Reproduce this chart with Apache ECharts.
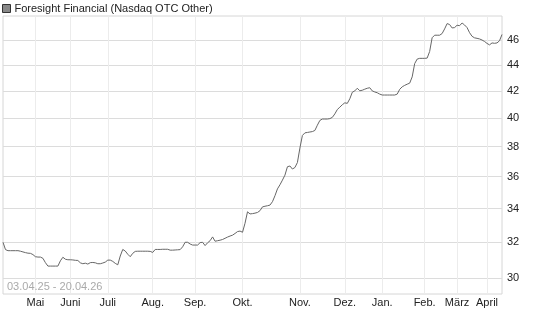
<!DOCTYPE html>
<html>
<head>
<meta charset="utf-8">
<script src="https://cdn.jsdelivr.net/npm/echarts@6/dist/echarts.min.js"></script>
<style>
html,body{margin:0;padding:0;background:#fff;}
#chart{width:545px;height:327px;}
</style>
</head>
<body>
<div id="chart"></div>
<script>
const seriesName = 'Foresight Financial (Nasdaq OTC Other)';
const dateRange = '03.04.25 - 20.04.26';
const prices = [
32.00,31.58,31.52,31.52,31.52,31.52,31.52,31.49,31.45,31.41,
31.38,31.37,31.30,31.18,31.16,31.16,31.09,30.85,30.66,30.66,
30.66,30.66,30.66,30.95,31.15,31.04,31.01,31.01,31.00,30.98,
30.97,30.84,30.79,30.82,30.77,30.85,30.86,30.84,30.79,30.79,
30.83,30.88,30.99,30.99,30.92,30.81,30.73,31.22,31.59,31.50,
31.32,31.18,31.37,31.48,31.49,31.49,31.49,31.49,31.49,31.48,
31.42,31.59,31.59,31.59,31.60,31.60,31.60,31.55,31.55,31.56,
31.57,31.58,31.74,32.00,32.00,31.90,31.84,31.84,31.84,31.98,
32.00,31.81,31.97,32.09,32.31,32.06,32.09,32.12,32.16,32.23,
32.30,32.36,32.41,32.51,32.62,32.65,32.58,33.11,33.80,33.67,
33.69,33.72,33.76,33.87,34.10,34.14,34.17,34.21,34.42,34.79,
35.22,35.48,35.78,36.10,36.65,36.70,36.50,36.60,36.93,37.90,
38.77,38.95,38.98,39.01,39.04,39.12,39.49,39.83,39.93,39.93,
39.93,39.96,40.05,40.30,40.62,40.79,40.97,41.11,41.07,41.41,
41.90,42.00,42.20,42.01,42.05,42.13,42.20,42.24,42.00,41.92,
41.86,41.76,41.69,41.69,41.69,41.69,41.69,41.69,41.76,42.12,
42.31,42.42,42.51,42.59,43.07,44.11,44.47,44.53,44.53,44.53,
44.55,45.08,46.21,46.42,46.42,46.42,46.56,46.95,47.40,47.32,
47.03,47.06,47.26,47.22,47.45,47.28,47.06,46.63,46.33,46.20,
46.16,46.11,46.02,45.90,45.74,45.62,45.78,45.75,45.78,45.96,
46.48
];
const monthStartIdx = [13, 27, 42, 60, 77, 96, 119, 137, 152, 169, 182, 194];
const monthLabels = ['Mai','Juni','Juli','Aug.','Sep.','Okt.','Nov.','Dez.','Jan.','Feb.','März','April'];
const yTicks = [30, 32, 34, 36, 38, 40, 42, 44, 46];
const yMin = 29.16, yMax = 48.05;

const categories = prices.map((_, i) => String(i));
const isMonthStart = (idx) => monthStartIdx.indexOf(idx) >= 0;

const chart = echarts.init(document.getElementById('chart'), null, {renderer: 'canvas'});
chart.setOption({
  animation: false,
  textStyle: {fontFamily: 'Liberation Sans, Arial, sans-serif'},
  title: {
    text: dateRange,
    left: 7, top: 281,
    padding: 0,
    textStyle: {fontSize: 11, fontWeight: 'normal', color: '#aaaaaa', fontFamily: 'Liberation Sans, Arial, sans-serif'}
  },
  legend: {
    left: 2, top: 3, padding: 0,
    icon: 'rect', itemWidth: 8, itemHeight: 8,
    data: [{name: seriesName, itemStyle: {color: '#888888', borderColor: '#333333', borderWidth: 1}}],
    textStyle: {fontSize: 11, color: '#222222', padding: [0,0,0,-1]}
  },
  grid: {
    left: 3, right: 43, top: 16, bottom: 33,
    show: true, borderColor: '#d6d6d6', borderWidth: 1, backgroundColor: 'transparent'
  },
  xAxis: {
    type: 'category',
    data: categories,
    boundaryGap: false,
    axisLine: {show: false},
    axisTick: {show: false},
    axisLabel: {
      interval: (idx) => isMonthStart(idx),
      formatter: (val, idx) => monthLabels[monthStartIdx.indexOf(Number(val))],
      fontSize: 11, color: '#222222', margin: 3
    },
    splitLine: {show: true, interval: (idx) => isMonthStart(idx), lineStyle: {color: '#ececec', width: 1}}
  },
  yAxis: {
    type: 'log',
    position: 'right',
    min: yMin, max: yMax,
    axisLine: {show: false},
    axisTick: {show: false, customValues: yTicks},
    axisLabel: {customValues: yTicks, fontSize: 11, color: '#222222', margin: 5, formatter: (v) => String(Math.round(v))},
    splitLine: {show: true, lineStyle: {color: '#dcdcdc', width: 1}}
  },
  series: [{
    name: seriesName,
    type: 'line',
    data: prices,
    showSymbol: false,
    symbol: 'none',
    lineStyle: {color: '#666666', width: 1},
    itemStyle: {color: '#666666'}
  }]
});
</script>
</body>
</html>
